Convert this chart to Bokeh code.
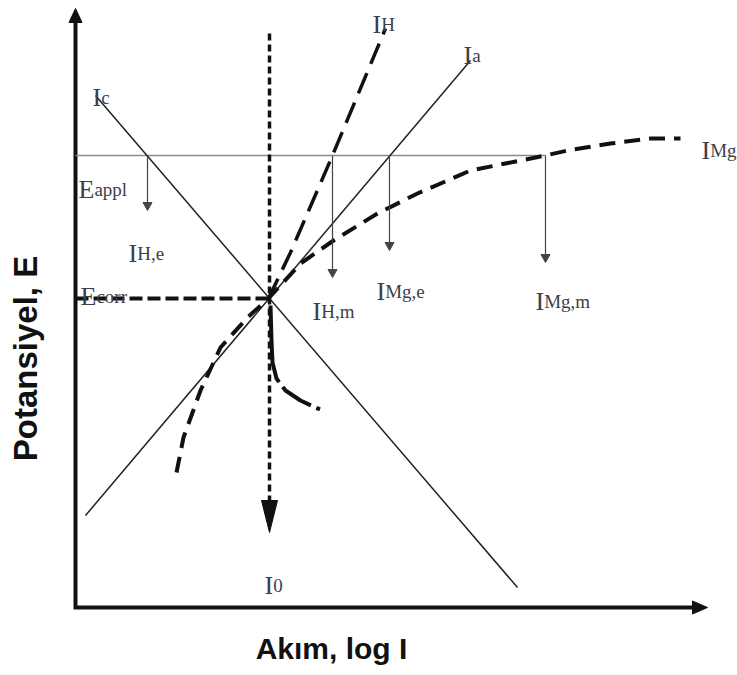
from bokeh.plotting import figure
from bokeh.models import Range1d, ColumnDataSource
from bokeh.embed import file_html
from bokeh.resources import INLINE
from bokeh.core.properties import value

# ---------------- data (schematic: x = log I, y = potential E, arbitrary units) ----
axis_logi = [0, 0, 617]
axis_e = [585, 0, 0]
axis_tips_logi = [0, 632]
axis_tips_e = [599, 0]

e_corr = 309
i_0 = 194
e_appl = 452
e_appl_end = 470

ic_logi = [20, 442]
ic_e = [512, 20]
ia_logi = [10, 395]
ia_e = [92, 547]
ih_logi = [193, 203, 215, 257, 310]
ih_e = [309, 330, 355, 452, 579]
img_logi = [101, 108, 125, 145, 172, 193, 225, 258, 302, 342, 395, 470, 492, 535, 575, 605]
img_e = [135, 170, 217, 260, 290, 309, 344, 367, 394, 414, 437, 452, 457, 464, 469, 469]
small_logi = [195, 196, 197, 201, 210, 225, 240, 252]
small_e = [302, 267, 245, 229, 217, 207, 200, 195]

drop_logi = [72, 257, 314, 470]
drop_tip_e = [397, 330, 357, 345]
i0_top_e = 574
i0_tip_e = 75

lab_main = ["I", "I", "I", "E", "I", "E", "I", "I", "I", "I", "I"]
lab_sub = ["c", "H", "a", "appl", "H,e", "corr", "H,m", "Mg,e", "Mg,m", "Mg", "0"]
lab_x = [17, 297, 388, 3, 53, 5, 237, 301, 460, 626, 189]
lab_y = [510, 583, 552, 418, 354, 311, 296, 316, 306, 457, 22]

x_title = "Akım, log I"
y_title = "Potansiyel, E"

# ---------------- figure ---------------------------------------------------------
p = figure(width=737, height=675, x_range=Range1d(-75, 662), y_range=Range1d(-68, 607),
           output_backend="svg", toolbar_location=None, min_border=0,
           x_axis_location=None, y_axis_location=None)
p.grid.visible = False
p.outline_line_color = None
p.background_fill_color = "white"

INK = "#111111"
TXT = "#3e3e4a"


def head(tx, ty, dx, dy, length, hw, color):
    # arrowhead patch computed from tip point and direction
    bx, by = tx - dx * length, ty - dy * length
    px, py = -dy, dx
    xs = [tx, bx + px * hw, bx - px * hw]
    ys = [ty, by + py * hw, by - py * hw]
    p.patch(xs, ys, fill_color=color, line_color=color, line_width=1)


# axes
p.line(axis_logi, axis_e, line_width=4, line_color=INK, line_join="miter")
head(axis_tips_logi[0], axis_tips_e[0], 0, 1, 14, 6.5, INK)
head(axis_tips_logi[1], axis_tips_e[1], 1, 0, 15, 6.5, INK)

# E_appl line
p.line([0, e_appl_end], [e_appl, e_appl], line_width=1.6, line_color="#8c8c8c")

# Tafel lines
p.line(ic_logi, ic_e, line_width=1.5, line_color="#222222")
p.line(ia_logi, ia_e, line_width=1.5, line_color="#222222")

# I_H dashed
p.line(ih_logi, ih_e, line_width=3.5, line_color=INK, line_dash="22 10")

# I_Mg dashed curve
p.line(img_logi, img_e, line_width=4, line_color=INK, line_dash="16 9")

# small curve below E_corr
p.line(small_logi, small_e, line_width=4, line_color=INK, line_dash="78 6 34 6 4 30")

# E_corr dashed horizontal
p.line([0, i_0 - 1], [e_corr, e_corr], line_width=4, line_color=INK, line_dash="13 5")

# I_0 dotted vertical arrow
p.line([i_0, i_0], [i0_top_e, i0_tip_e + 30], line_width=3.5, line_color=INK, line_dash="7 4")
head(i_0, i0_tip_e, 0, -1, 32, 8, INK)

# drop arrows from E_appl
for xd, te in zip(drop_logi, drop_tip_e):
    p.line([xd, xd], [e_appl, te + 7], line_width=1.2, line_color="#444444")
    head(xd, te, 0, -1, 8, 4.5, "#444444")

# labels
main_w = {"I": 8.7, "E": 15.9}
src_main = ColumnDataSource(dict(x=lab_x, y=lab_y, t=lab_main))
src_sub = ColumnDataSource(dict(x=[x + main_w[m] for x, m in zip(lab_x, lab_main)],
                                y=lab_y, t=lab_sub))
p.text(x="x", y="y", text="t", source=src_main, text_font=value("Liberation Serif"),
       text_font_size=value("26px"), text_color=TXT, text_baseline="alphabetic",
       text_align="left")
p.text(x="x", y="y", text="t", source=src_sub, text_font=value("Liberation Serif"),
       text_font_size=value("19px"), text_color=TXT, text_baseline="alphabetic",
       text_align="left")

# axis titles
p.text(x=[256], y=[-41], text=[x_title], text_font=value("Liberation Sans"),
       text_font_style="bold", text_font_size=value("30px"), text_color="#111111",
       text_baseline="alphabetic", text_align="center")
p.text(x=[-50], y=[249], text=[y_title], text_font=value("Liberation Sans"),
       text_font_style="bold", text_font_size=value("33px"), text_color="#111111",
       text_baseline="middle", text_align="center", angle=1.5708)

open("out.html", "w").write(file_html(p, INLINE))
